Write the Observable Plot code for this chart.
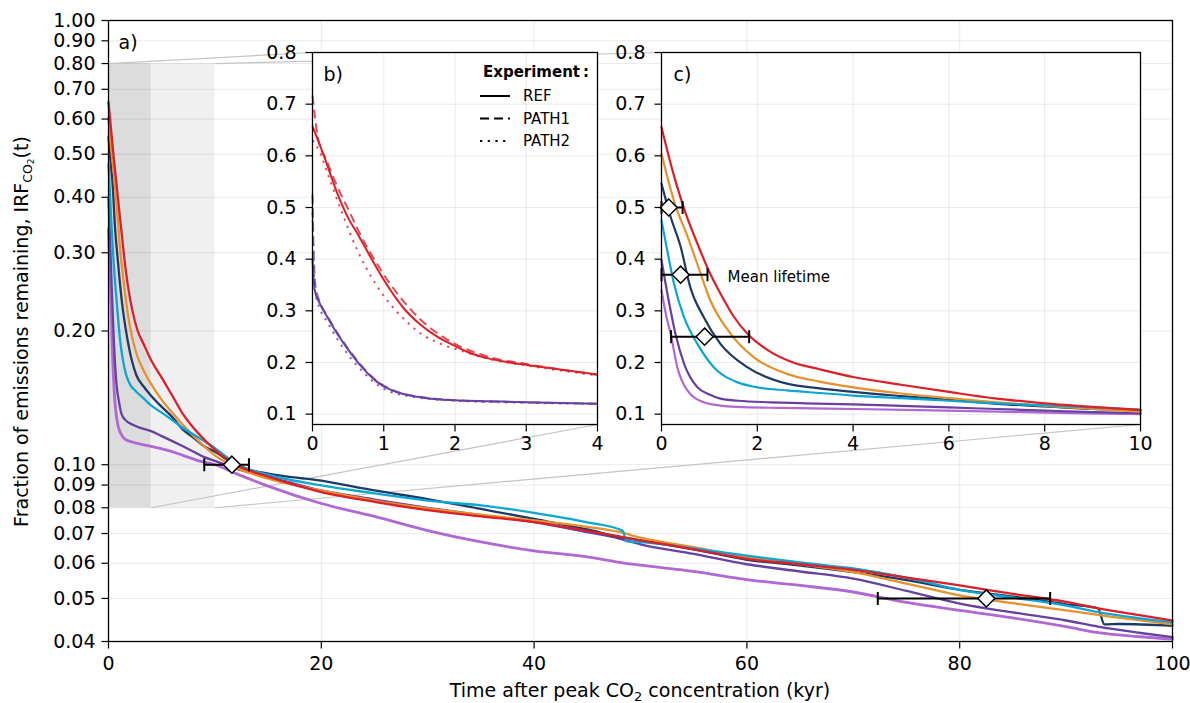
<!DOCTYPE html>
<html><head><meta charset="utf-8">
<script src="https://cdn.jsdelivr.net/npm/d3@7"></script>
<script src="https://cdn.jsdelivr.net/npm/@observablehq/plot@0.6"></script>
<style>
html,body{margin:0;padding:0;background:#fff;}
#wrap{position:relative;width:1190px;height:703px;overflow:hidden;background:#fff;}
#wrap svg{position:absolute;left:0;top:0;}
</style></head><body><div id="wrap"></div>
<script>
// ---------------- data ----------------
const xTicksMain = [0, 20, 40, 60, 80, 100];
const yTicksMain = [0.04, 0.05, 0.06, 0.07, 0.08, 0.09, 0.10, 0.20, 0.30, 0.40, 0.50, 0.60, 0.70, 0.80, 0.90, 1.00];
const xTicksB = [0, 1, 2, 3, 4];
const xTicksC = [0, 2, 4, 6, 8, 10];
const yTicksInset = [0.1, 0.2, 0.3, 0.4, 0.5, 0.6, 0.7, 0.8];
const zoomB = [0, 4];
const zoomC = [0, 10];
const zoomY = [0.08, 0.8];

const seriesOrder = ["lilac", "purple", "navy", "orange", "cyan", "red"];
const seriesColors = {red: "#dc1f28", orange: "#e8902a", navy: "#1e3a66", cyan: "#0aa6d6", purple: "#6641a3", lilac: "#b068d3"};

// [time (kyr), fraction remaining]
const red = [[0,.655],[.25,.565],[.5,.49],[.75,.43],[1,.375],[1.25,.33],[1.5,.29],[1.8,.255],[2.25,.222],[2.75,.2],[3.3,.187],[4,.172],[5,.157],[6,.143],[7,.13],[8,.121],[9,.114],[10,.108],[12,.1],[15,.094],[20,.0868],[25,.0825],[30,.079],[35,.0765],[40,.0743],[45,.071],[50,.0676],[55,.0645],[60,.0614],[65,.0597],[70,.058],[75,.0557],[80,.0535],[85,.0512],[90,.0491],[93,.0475],[96,.0462],[100,.0446]];
const orange = [[0,.604],[.29,.504],[.54,.445],[.75,.39],[1.02,.32],[1.44,.256],[1.93,.21],[2.62,.178],[3.3,.163],[4,.152],[5,.14],[6,.131],[7,.123],[8,.116],[9,.11],[10,.105],[12,.0985],[15,.093],[20,.0875],[25,.083],[30,.0797],[35,.0772],[40,.0749],[45,.0725],[48,.0706],[50,.0685],[55,.0652],[60,.062],[65,.0597],[70,.0573],[75,.054],[80,.0508],[85,.0488],[90,.047],[93,.0459],[100,.0437]];
const navy = [[0,.546],[.19,.482],[.4,.424],[.6,.346],[.88,.288],[1.23,.236],[1.79,.191],[2.62,.159],[3.3,.15],[4,.143],[5,.135],[6,.128],[7,.12],[8,.115],[9,.11],[10,.107],[12,.0995],[15,.0955],[20,.0921],[25,.0875],[30,.0837],[35,.0795],[40,.0755],[45,.0715],[48,.0688],[50,.0676],[55,.0645],[60,.0611],[65,.0593],[70,.0573],[75,.055],[80,.0523],[85,.0505],[90,.0485],[93,.0475],[93.6,.0437],[95,.0438],[100,.0434]];
const cyan = [[0,.475],[.12,.417],[.26,.353],[.47,.288],[.75,.236],[1.09,.191],[1.58,.162],[2,.152],[2.62,.146],[3.3,.141],[4,.136],[5,.131],[6,.126],[7,.121],[8,.117],[9,.113],[10,.109],[12,.1005],[15,.095],[20,.0898],[25,.0862],[30,.083],[35,.081],[40,.0779],[45,.0742],[48.3,.0711],[48.7,.0672],[50,.067],[55,.0648],[60,.0624],[65,.0603],[70,.0584],[75,.0557],[80,.0523],[85,.0502],[90,.0482],[93,.0466],[100,.0442]];
const purple = [[0,.398],[.15,.32],[.29,.256],[.47,.198],[.75,.152],[1,.138],[1.23,.13],[1.6,.126],[2.28,.123],[3,.121],[4,.119],[5,.116],[6,.113],[7,.11],[8,.107],[9,.104],[10,.102],[12,.098],[15,.094],[20,.0875],[25,.0835],[30,.08],[35,.077],[40,.0743],[45,.0705],[48,.0682],[50,.0662],[55,.063],[60,.0597],[65,.0575],[70,.0554],[75,.052],[80,.0487],[85,.0465],[90,.0446],[93,.0432],[97,.0418],[100,.0409]];
const lilac = [[0,.34],[.1,.29],[.19,.256],[.33,.191],[.54,.146],[.88,.123],[1.2,.117],[1.58,.114],[2.5,.112],[4,.11],[5.4,.108],[7,.105],[8.5,.102],[10,.1],[12,.0955],[15,.0895],[20,.0818],[25,.0765],[30,.0711],[35,.067],[40,.064],[45,.062],[48,.0603],[50,.0594],[55,.0575],[60,.0551],[65,.0535],[70,.0517],[75,.049],[80,.047],[85,.0452],[90,.0432],[93,.0419],[97,.041],[100,.0405]];
const seriesData = {red, orange, navy, cyan, purple, lilac};

// inset b: REF / PATH1 / PATH2 for two members
const bRefRed = [[0,.657],[.16,.6],[.35,.527],[.5,.48],[.65,.445],[.81,.405],[1,.36],[1.28,.305],[1.5,.275],[1.75,.25],[2,.232],[2.22,.218],[2.5,.207],[2.92,.197],[3.5,.186],[4,.177]];
const bPath1Red = [[0,.717],[.07,.64],[.2,.59],[.35,.54],[.5,.497],[.7,.44],[.91,.39],[1.1,.35],[1.3,.315],[1.5,.285],[1.75,.257],[2,.236],[2.5,.21],[3,.197],[3.5,.186],[4,.176]];
const bPath2Red = [[0,.63],[.09,.611],[.2,.57],[.42,.488],[.63,.417],[.85,.36],[1.05,.32],[1.3,.282],[1.52,.256],[1.8,.236],[2.08,.223],[2.5,.206],[2.92,.196],[3.5,.184],[4,.175]];
const bRefPurple = [[0,.40],[.03,.34],[.1,.315],[.2,.29],[.35,.255],[.5,.225],[.7,.19],[.9,.163],[1.1,.147],[1.3,.138],[1.6,.131],[2,.127],[2.5,.125],[3,.123],[4,.12]];
const bPath1Purple = [[0,.525],[.015,.42],[.04,.35],[.1,.318],[.2,.292],[.35,.257],[.5,.227],[.7,.192],[.9,.165],[1.1,.148],[1.3,.139],[1.6,.132],[2,.127],[3,.123],[4,.12]];
const bPath2Purple = [[0,.49],[.015,.40],[.04,.335],[.1,.305],[.2,.28],[.35,.245],[.5,.215],[.7,.183],[.9,.158],[1.1,.143],[1.3,.136],[1.6,.13],[2,.126],[3,.122],[4,.12]];
const experiments = ["REF", "PATH1", "PATH2"];

// mean lifetime (central estimate and range)
const lifetimeMain = [{t: 11.6, lo: 9.0, hi: 13.2, v: 0.10}, {t: 82.5, lo: 72.3, hi: 88.5, v: 0.05}];
const lifetimeC = [{t: 0.15, lo: 0, hi: 0.44, v: 0.5}, {t: 0.4, lo: 0, hi: 0.96, v: 0.37}, {t: 0.9, lo: 0.2, hi: 1.83, v: 0.25}];
const annotC = [{t: 1.38, v: 0.365, text: "Mean lifetime"}];

// ---------------- layout ----------------
const W = 1190, H = 703;
const box = {main: {l: 108, r: 1172, t: 20, b: 641}, b: {l: 312, r: 597, t: 52, b: 424}, c: {l: 661, r: 1140, t: 52, b: 424}};
const FONT = "DejaVu Sans";
const FS = 19;
const baseStyle = {fontFamily: FONT, fontSize: FS + "px", background: "transparent", color: "black"};
const margins = bx => ({marginLeft: bx.l, marginRight: W - bx.r, marginTop: bx.t, marginBottom: H - bx.b});
const vline = {draw(ctx, size) { const h = Math.sqrt(size / Math.PI); ctx.moveTo(0, -h); ctx.lineTo(0, h); }};
const hline = {draw(ctx, size) { const h = Math.sqrt(size / Math.PI); ctx.moveTo(-h, 0); ctx.lineTo(h, 0); }};
const gridStyle = {stroke: "#000", strokeOpacity: 0.085, strokeWidth: 1};
const TICK = 7;

function axisMarks(xTicks, yTicks, xFmt, yFmt, xDy, yDx) {
  return [
    Plot.dot(xTicks, {x: d => d, frameAnchor: "bottom", dy: TICK / 2, symbol: vline, r: TICK / 2, stroke: "black", strokeWidth: 1.2}),
    Plot.dot(yTicks, {y: d => d, frameAnchor: "left", dx: -TICK / 2, symbol: hline, r: TICK / 2, stroke: "black", strokeWidth: 1.2}),
    Plot.text(xTicks, {x: d => d, text: xFmt, frameAnchor: "bottom", dy: xDy, textAnchor: "middle", lineAnchor: "middle", fontSize: FS}),
    Plot.text(yTicks, {y: d => d, text: yFmt, frameAnchor: "left", dx: yDx, textAnchor: "end", lineAnchor: "middle", fontSize: FS})
  ];
}
function lifetimeMarks(data) {
  const caps = data.flatMap(d => [{x: d.lo, y: d.v}, {x: d.hi, y: d.v}]);
  return [
    Plot.ruleY(data, {y: "v", x1: "lo", x2: "hi", stroke: "black", strokeWidth: 2}),
    Plot.dot(caps, {x: "x", y: "y", symbol: vline, r: 6.5, stroke: "black", strokeWidth: 2}),
    Plot.dot(data, {x: "t", y: "v", symbol: "diamond2", r: 7.7, fill: "white", stroke: "black", strokeWidth: 1.5})
  ];
}
function seriesLines(maxT, width) {
  return seriesOrder.map(name => Plot.line(seriesData[name].filter(d => d[0] <= maxT), {
    x: d => d[0], y: d => d[1], stroke: seriesColors[name], strokeWidth: width(name), curve: "monotone-x"
  }));
}
const panelLabel = (s, dx) => Plot.text([s], {frameAnchor: "top-left", dx, dy: 22, textAnchor: "start", lineAnchor: "middle", fontSize: FS});

// ---------------- inset b ----------------
const wrap = document.getElementById("wrap");
const bLine = (data, color, dash, op) => Plot.line(data, {x: d => d[0], y: d => d[1], stroke: color, strokeWidth: 2, strokeOpacity: op,
  strokeDasharray: dash, strokeLinecap: "butt", curve: "monotone-x"});
const dashes = {REF: null, PATH1: "9,5", PATH2: "2.2,5.5"};
const fmtInt = d => String(d);
const fmt1 = d3.format(".1f");
const fmt2 = d3.format(".2f");

const svgB = Plot.plot({
  width: W, height: H, ...margins(box.b), style: baseStyle,
  x: {domain: zoomB, axis: null}, y: {domain: zoomY, axis: null},
  marks: [
    Plot.frame({fill: "white", stroke: "none"}),
    Plot.ruleX(xTicksB, gridStyle),
    Plot.ruleY(yTicksInset, gridStyle),
    bLine(bPath2Purple, seriesColors.purple, dashes.PATH2, 0.8),
    bLine(bPath1Purple, seriesColors.purple, dashes.PATH1, 0.8),
    bLine(bRefPurple, seriesColors.purple, dashes.REF, 1),
    bLine(bPath2Red, seriesColors.red, dashes.PATH2, 0.8),
    bLine(bPath1Red, seriesColors.red, dashes.PATH1, 0.8),
    bLine(bRefRed, seriesColors.red, dashes.REF, 1),
    panelLabel("b)", 11),
    ...axisMarks(xTicksB, yTicksInset, fmtInt, fmt1, 19, -16),
    Plot.frame({stroke: "black", strokeWidth: 1.3})
  ]
});
// legend (inside panel b)
{
  const g = d3.select(svgB).append("g").attr("font-family", FONT);
  g.append("text").attr("x", 536).attr("y", 77).attr("text-anchor", "middle").attr("font-size", 15)
    .attr("font-weight", "bold").text("Experiment\u2009:");
  experiments.forEach((e, i) => {
    const y = 96 + i * 22.5;
    g.append("line").attr("x1", 480).attr("x2", 510).attr("y1", y).attr("y2", y).attr("stroke", "black")
      .attr("stroke-width", 2).attr("stroke-dasharray", dashes[e]);
    g.append("text").attr("x", 523).attr("y", y).attr("dy", "0.35em").attr("text-anchor", "start").attr("font-size", 15).text(e);
  });
}

// ---------------- inset c ----------------
const svgC = Plot.plot({
  width: W, height: H, ...margins(box.c), style: baseStyle,
  x: {domain: zoomC, axis: null}, y: {domain: zoomY, axis: null},
  marks: [
    Plot.frame({fill: "white", stroke: "none"}),
    Plot.ruleX(xTicksC, gridStyle),
    Plot.ruleY(yTicksInset, gridStyle),
    ...seriesLines(zoomC[1], () => 2.2),
    ...lifetimeMarks(lifetimeC),
    Plot.text(annotC, {x: "t", y: "v", text: "text", textAnchor: "start", lineAnchor: "middle", fontSize: 15}),
    panelLabel("c)", 12),
    ...axisMarks(xTicksC, yTicksInset, fmtInt, fmt1, 19, -16),
    Plot.frame({stroke: "black", strokeWidth: 1.3})
  ]
});

// ---------------- main panel ----------------
function makeMain(connectors) {
  const shade = [
    {x1: zoomC[0], x2: zoomC[1], y1: zoomY[0], y2: zoomY[1], fill: "#f0f0f0"},
    {x1: zoomB[0], x2: zoomB[1], y1: zoomY[0], y2: zoomY[1], fill: "#dcdcdc"}
  ];
  return Plot.plot({
    width: W, height: H, ...margins(box.main), style: baseStyle,
    x: {domain: [0, 100], axis: null},
    y: {type: "log", domain: [0.04, 1], axis: null},
    marks: [
      Plot.rect(shade, {x1: "x1", x2: "x2", y1: "y1", y2: "y2", fill: "fill"}),
      Plot.ruleX(xTicksMain, gridStyle),
      Plot.ruleY(yTicksMain, gridStyle),
      Plot.link(connectors, {x1: "x1", y1: "y1", x2: "x2", y2: "y2", stroke: "#c4c4c4", strokeWidth: 1.2}),
      ...seriesLines(100, n => n === "lilac" ? 2.8 : 2.3),
      ...lifetimeMarks(lifetimeMain),
      panelLabel("a)", 10),
      ...axisMarks(xTicksMain, yTicksMain, fmtInt, fmt2, 22, -13),
      Plot.frame({stroke: "black", strokeWidth: 1.3})
    ]
  });
}
const probe = makeMain([]);
const mx = probe.scale("x"), my = probe.scale("y");
const bx = svgB.scale("x"), by = svgB.scale("y"), cx = svgC.scale("x"), cy = svgC.scale("y");
const link = (t, v, sx, sy, t2, v2) => ({x1: t, y1: v, x2: mx.invert(sx.apply(t2)), y2: my.invert(sy.apply(v2))});
const connectors = [
  link(zoomB[0], zoomY[1], bx, by, zoomB[0], zoomY[1]),
  link(zoomB[1], zoomY[0], bx, by, zoomB[1], zoomY[0]),
  link(zoomC[1], zoomY[1], cx, cy, zoomC[0], zoomY[1]),
  link(zoomC[1], zoomY[0], cx, cy, zoomC[1], zoomY[0])
];
const svgMain = makeMain(connectors);

// axis titles with subscripts
{
  const s = d3.select(svgMain);
  const xl = s.append("text").attr("x", (box.main.l + box.main.r) / 2).attr("y", 697).attr("text-anchor", "middle")
    .attr("font-family", FONT).attr("font-size", FS).attr("fill", "black");
  xl.append("tspan").text("Time after peak CO");
  xl.append("tspan").attr("font-size", 13).attr("dy", 4).text("2");
  xl.append("tspan").attr("dy", -4).text(" concentration (kyr)");
  const yl = s.append("text").attr("transform", `translate(28,${(box.main.t + box.main.b) / 2 + 1}) rotate(-90)`)
    .attr("text-anchor", "middle").attr("font-family", FONT).attr("font-size", FS).attr("fill", "black");
  yl.append("tspan").text("Fraction of emissions remaining, IRF");
  yl.append("tspan").attr("font-size", 12.5).attr("dy", 4).text("CO");
  yl.append("tspan").attr("font-size", 9).attr("dy", 2).text("2");
  yl.append("tspan").attr("font-size", FS).attr("dy", -6).text("(t)");
}

wrap.appendChild(svgMain);
wrap.appendChild(svgB);
wrap.appendChild(svgC);
</script></body></html>
